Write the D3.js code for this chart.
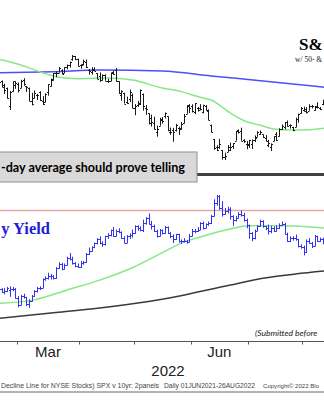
<!DOCTYPE html>
<html><head><meta charset="utf-8">
<script src="https://cdn.jsdelivr.net/npm/d3@7"></script>
<style>html,body{margin:0;padding:0;background:#fff;overflow:hidden}</style>
</head><body>
<svg id="c" width="324" height="400"></svg>
<script>
// ---- DATA ----
const dates = [
 "02-16","02-17","02-18","02-22","02-23","02-24","02-25","02-28",
 "03-01","03-02","03-03","03-04","03-07","03-08","03-09","03-10","03-11","03-14","03-15","03-16","03-17","03-18","03-21","03-22","03-23","03-24","03-25","03-28","03-29","03-30","03-31",
 "04-01","04-04","04-05","04-06","04-07","04-08","04-11","04-12","04-13","04-14","04-18","04-19","04-20","04-21","04-22","04-25","04-26","04-27","04-28","04-29",
 "05-02","05-03","05-04","05-05","05-06","05-09","05-10","05-11","05-12","05-13","05-16","05-17","05-18","05-19","05-20","05-23","05-24","05-25","05-26","05-27","05-31",
 "06-01","06-02","06-03","06-06","06-07","06-08","06-09","06-10","06-13","06-14","06-15","06-16","06-17","06-21","06-22","06-23","06-24","06-27","06-28","06-29","06-30",
 "07-01","07-05","07-06","07-07","07-08","07-11","07-12","07-13","07-14","07-15","07-18","07-19","07-20","07-21","07-22","07-25","07-26","07-27","07-28","07-29",
 "08-01","08-02","08-03","08-04","08-05","08-08","08-09","08-10","08-11"];

const spOpen = [4441,4456,4385,4332,4325,4155,4298,4354,
 4363,4322,4401,4342,4327,4202,4224,4253,4280,4202,4188,4289,4345,4398,4462,4470,4494,4469,4523,4541,4602,4624,4600,
 4540,4547,4572,4495,4474,4495,4462,4437,4397,4449,4385,4390,4473,4490,4385,4255,4278,4186,4222,4253,
 4130,4159,4181,4270,4129,4081,4035,3991,3903,3964,4014,4052,4052,3900,3927,3920,3943,3929,3985,4077,4151,
 4150,4096,4137,4135,4096,4148,4102,3974,3838,3764,3765,3733,3665,3715,3733,3774,3821,3920,3913,3826,3786,
 3782,3792,3831,3858,3889,3880,3851,3776,3763,3819,3883,3861,3935,3955,4002,3966,3953,3951,4027,4087,
 4112,4104,4107,4155,4115,4156,4134,4171,4227];
const spHigh = [4490,4456,4394,4363,4327,4295,4385,4388,
 4375,4401,4416,4342,4327,4277,4300,4268,4292,4247,4272,4358,4412,4465,4481,4522,4501,4520,4546,4575,4637,4627,4603,
 4549,4593,4593,4503,4521,4520,4464,4471,4453,4453,4410,4471,4488,4513,4385,4300,4278,4240,4308,4270,
 4169,4200,4308,4270,4160,4082,4069,4050,3964,4039,4046,4090,4052,3946,3943,3981,3955,3999,4076,4158,4169,
 4167,4178,4142,4169,4164,4160,4119,3974,3838,3778,3838,3733,3707,3780,3802,3798,3913,3928,3945,3836,3818,
 3829,3832,3871,3911,3918,3880,3874,3829,3796,3864,3903,3939,3975,3999,4013,3976,3953,4040,4079,4141,
 4144,4140,4168,4162,4152,4187,4142,4211,4257];
const spLow = [4401,4373,4327,4267,4222,4114,4287,4315,
 4280,4322,4345,4285,4199,4157,4224,4209,4200,4162,4187,4250,4335,4393,4425,4469,4455,4465,4501,4517,4582,4588,4530,
 4507,4538,4514,4450,4450,4487,4408,4381,4393,4392,4371,4388,4449,4384,4267,4201,4175,4171,4188,4131,
 4063,4144,4161,4107,4067,3976,3956,3929,3859,3963,3983,4033,3911,3876,3810,3909,3875,3926,3985,4077,4084,
 4090,4075,4098,4109,4081,4107,4017,3901,3734,3722,3743,3640,3637,3715,3723,3743,3821,3889,3820,3800,3739,
 3752,3742,3808,3858,3878,3847,3814,3759,3722,3817,3818,3861,3924,3928,3955,3936,3911,3951,3992,4079,
 4097,4079,4107,4128,4107,4128,4112,4159,4201];
const spClose = [4475,4380,4349,4304,4226,4288,4385,4374,
 4306,4387,4364,4329,4201,4171,4278,4260,4204,4173,4262,4358,4412,4463,4461,4512,4456,4520,4543,4575,4632,4602,4530,
 4546,4583,4525,4481,4500,4488,4413,4397,4447,4392,4391,4463,4459,4394,4272,4296,4175,4184,4288,4132,
 4155,4175,4300,4147,4123,3991,4001,3936,3930,4024,4008,4088,3923,3901,3901,3974,3941,3979,4058,4158,4132,
 4101,4177,4109,4121,4161,4116,4018,3901,3750,3735,3790,3667,3675,3765,3760,3796,3912,3901,3822,3819,3785,
 3825,3831,3845,3903,3899,3855,3819,3802,3790,3863,3831,3937,3960,3999,3962,3967,3921,4024,4073,4130,
 4119,4091,4155,4152,4145,4140,4122,4210,4207];

const ylOpen = [2.05,2.04,1.97,1.93,1.94,1.96,1.97,1.97,
 1.83,1.72,1.86,1.84,1.73,1.78,1.86,1.95,1.99,2.00,2.14,2.16,2.19,2.18,2.15,2.32,2.38,2.30,2.37,2.48,2.46,2.40,2.35,
 2.34,2.39,2.41,2.55,2.60,2.66,2.72,2.78,2.72,2.70,2.83,2.85,2.94,2.84,2.91,2.90,2.81,2.73,2.83,2.85,
 2.89,2.99,2.96,2.93,3.05,3.12,3.03,2.99,2.91,2.84,2.93,2.88,2.98,2.88,2.84,2.78,2.86,2.76,2.75,2.75,2.74,
 2.84,2.91,2.91,2.94,3.04,2.97,3.03,3.04,3.16,3.37,3.48,3.29,3.20,3.24,3.28,3.16,3.09,3.13,3.20,3.18,3.09,
 3.01,2.88,2.81,2.92,3.00,3.08,2.99,2.96,2.91,2.96,2.92,2.96,3.02,3.03,2.87,2.75,2.80,2.80,2.78,2.67,
 2.65,2.57,2.75,2.73,2.68,2.83,2.76,2.79,2.78];
const ylHigh = [2.07,2.05,1.99,1.99,2.01,2.02,2.01,1.99,
 1.86,1.88,1.90,1.85,1.81,1.88,1.96,2.01,2.02,2.15,2.18,2.24,2.22,2.20,2.33,2.41,2.40,2.39,2.50,2.56,2.50,2.41,2.39,
 2.43,2.43,2.56,2.65,2.67,2.73,2.80,2.83,2.75,2.84,2.88,2.94,2.98,2.94,2.96,2.91,2.83,2.85,2.88,2.94,
 3.01,3.01,2.99,3.10,3.14,3.20,3.08,3.02,2.94,2.95,2.94,3.00,2.99,2.90,2.86,2.87,2.87,2.78,2.80,2.77,2.87,
 2.95,2.95,2.98,3.06,3.07,3.04,3.07,3.18,3.43,3.50,3.50,3.40,3.29,3.31,3.30,3.17,3.16,3.22,3.25,3.21,3.12,
 3.02,2.90,2.94,3.01,3.10,3.09,3.00,3.02,3.00,2.99,3.01,3.04,3.07,3.05,2.89,2.83,2.83,2.86,2.79,2.70,
 2.68,2.78,2.80,2.74,2.85,2.84,2.81,2.81,2.90];
const ylLow = [2.02,1.96,1.91,1.89,1.93,1.85,1.94,1.82,
 1.68,1.71,1.82,1.70,1.67,1.77,1.85,1.92,1.96,1.99,2.11,2.13,2.13,2.13,2.14,2.30,2.28,2.29,2.36,2.44,2.37,2.33,2.32,
 2.32,2.37,2.40,2.53,2.58,2.64,2.70,2.70,2.66,2.68,2.79,2.83,2.82,2.83,2.88,2.79,2.72,2.72,2.79,2.81,
 2.87,2.92,2.91,2.90,3.02,3.02,2.94,2.90,2.81,2.83,2.86,2.87,2.87,2.80,2.72,2.77,2.73,2.71,2.73,2.71,2.73,
 2.83,2.88,2.90,2.93,2.94,2.96,3.00,3.03,3.15,3.33,3.26,3.15,3.18,3.20,3.10,3.00,3.07,3.12,3.15,3.07,2.96,
 2.79,2.75,2.78,2.91,2.99,2.97,2.93,2.86,2.88,2.90,2.91,2.95,3.00,2.86,2.74,2.74,2.76,2.76,2.65,2.63,
 2.52,2.56,2.71,2.64,2.67,2.74,2.74,2.70,2.76];
const ylClose = [2.04,1.97,1.93,1.94,1.99,1.97,1.97,1.83,
 1.72,1.86,1.84,1.73,1.78,1.86,1.95,1.99,2.00,2.14,2.16,2.19,2.18,2.15,2.32,2.38,2.30,2.37,2.48,2.46,2.40,2.35,2.34,
 2.39,2.41,2.55,2.60,2.66,2.72,2.78,2.72,2.70,2.83,2.85,2.94,2.84,2.91,2.90,2.81,2.73,2.83,2.85,2.89,
 2.99,2.96,2.93,3.05,3.12,3.03,2.99,2.91,2.84,2.93,2.88,2.98,2.88,2.84,2.78,2.86,2.76,2.75,2.75,2.74,2.84,
 2.91,2.91,2.94,3.04,2.97,3.03,3.04,3.16,3.37,3.48,3.29,3.20,3.24,3.28,3.16,3.09,3.13,3.20,3.18,3.09,3.01,
 2.88,2.81,2.92,3.00,3.08,2.99,2.96,2.91,2.96,2.92,2.96,3.02,3.03,2.87,2.75,2.80,2.80,2.78,2.67,2.65,
 2.57,2.75,2.73,2.68,2.83,2.76,2.79,2.78,2.89];

// moving averages: [date, value]
const spMA50 = [["02-17",4596],["03-02",4542],["03-14",4468],["03-22",4425],["03-31",4411],["04-18",4418],["04-29",4399],["05-16",4323],["05-25",4288],["06-06",4234],["06-10",4208],["06-22",4085],["06-30",4002],["07-08",3970],["07-15",3932],["07-25",3923],["08-01",3923],["08-11",3942]];
const spMA200 = [["02-17",4468],["03-18",4478],["04-12",4494],["05-16",4485],["06-10",4438],["07-11",4390],["08-11",4329]];
const ylMA50 = [["02-17",1.745],["03-09",1.80],["03-25",1.96],["04-12",2.12],["04-29",2.32],["05-18",2.61],["05-25",2.72],["06-06",2.82],["06-22",2.95],["07-01",3.00],["07-20",3.00],["08-11",2.965]];
const ylMA200 = [["02-17",1.50],["03-18",1.59],["04-12",1.67],["05-03",1.75],["05-16",1.81],["06-22",2.04],["07-11",2.15],["07-27",2.22],["08-11",2.27]];
const ylRef = 3.25;

const monthStarts = ["03-01","04-01","05-02","06-01","07-01","08-01"];
const monthLabels = [{label:"Mar", first:"03-01", last:"03-31"}, {label:"Jun", first:"06-01", last:"06-30"}];
const yearLabel = "2022";

// visible text fragments (the reference is a crop of a larger chart)
const topTitle = "S&";
const topSub = "w/ 50- &";
const boxText = "-day average should prove telling";
const botTitle = "y Yield";
const noteText = "(Submitted before";
const footer1 = "Decline Line for NYSE Stocks) SPX v 10yr: 2panels";
const footer2 = "Daily 01JUN2021-26AUG2022";
const footer3 = "Copyright\u00A9 2022 Blo";

// ---- LAYOUT ----
const svg = d3.select("#c");
const step = 2.72, x0 = 16.7 - 8*step;
const x = d3.scaleBand().domain(dates).range([x0, x0 + dates.length*step]).padding(0);
const cx = d => Math.round(x(d) + step/2) + 0.5;
const cxs = d => x(d) + step/2;
const yTop = d3.scaleLinear().domain([3637, 4637]).range([160, 55]);
const yBot = d3.scaleLinear().domain([1.67, 3.50]).range([307.9, 195]);

function bars(g, o, h, l, c, y, color){
  let p = "";
  dates.forEach((d,i)=>{
    const xc = cx(d);
    p += `M${xc},${y(h[i])}V${y(l[i])}`;
    p += `M${xc-1.5},${Math.round(y(o[i]))+0.5}H${xc}`;
    p += `M${xc},${Math.round(y(c[i]))+0.5}H${xc+1.5}`;
  });
  g.append("path").attr("d", p).attr("fill","none").attr("stroke", color).attr("stroke-width",1);
}
function maLine(g, data, y, color, w){
  const line = d3.line().x(d=>cxs(d[0])).y(d=>y(d[1])).curve(d3.curveMonotoneX);
  g.append("path").datum(data).attr("d", line).attr("fill","none").attr("stroke", color).attr("stroke-width", w);
}

// top panel
const gTop = svg.append("g");
maLine(gTop, spMA200, yTop, "#4d4dff", 1.5);
maLine(gTop, spMA50, yTop, "#86e886", 1.5);
bars(gTop, spOpen, spHigh, spLow, spClose, yTop, "#1a1a1a");
svg.append("text").attr("x",299).attr("y",50).attr("font-family","Liberation Serif").attr("font-weight","bold").attr("font-size",17).attr("fill","#000").text(topTitle);
svg.append("text").attr("x",295).attr("y",62).attr("font-family","Liberation Serif").attr("font-size",7.5).attr("fill","#222").text(topSub);

// panel separator
svg.append("line").attr("x1",0).attr("x2",324).attr("y1",174.5).attr("y2",174.5).attr("stroke","#404040").attr("stroke-width",3);

// text box
svg.append("rect").attr("x",-2).attr("y",152).attr("width",199).attr("height",30).attr("fill","#d9d9d9").attr("stroke","#8f8f8f").attr("stroke-width",1);
svg.append("text").attr("x",1).attr("y",172).attr("textLength",184).attr("lengthAdjust","spacingAndGlyphs").attr("font-family","Lato").attr("font-weight","bold").attr("font-size",12.5).attr("fill","#000").text(boxText);

// bottom panel
const gBot = svg.append("g");
gBot.append("line").attr("x1",0).attr("x2",324).attr("y1",Math.round(yBot(ylRef))+0.5).attr("y2",Math.round(yBot(ylRef))+0.5).attr("stroke","#e3aaa4").attr("stroke-width",1.5);
maLine(gBot, ylMA200, yBot, "#3a3a3a", 1.5);
maLine(gBot, ylMA50, yBot, "#86e886", 1.5);
bars(gBot, ylOpen, ylHigh, ylLow, ylClose, yBot, "#3232f0");
svg.append("text").attr("x",50).attr("y",234).attr("text-anchor","end").attr("font-family","Liberation Serif").attr("font-weight","bold").attr("font-size",16.5).attr("fill","#1e1ed8").text(botTitle);

svg.append("text").attr("x",255).attr("y",336).attr("font-family","Lato").attr("font-style","italic").attr("font-size",8.5).attr("fill","#222").text(noteText);

// x axis
svg.append("line").attr("x1",0).attr("x2",324).attr("y1",341.5).attr("y2",341.5).attr("stroke","#555").attr("stroke-width",1.2);
svg.selectAll(".tk").data(monthStarts).enter().append("line")
  .attr("x1",d=>Math.round(x(d))+0.5).attr("x2",d=>Math.round(x(d))+0.5).attr("y1",341).attr("y2",344.5).attr("stroke","#555").attr("stroke-width",1);
svg.selectAll(".ml").data(monthLabels).enter().append("text")
  .attr("x",d=>(x(d.first)+x(d.last)+step)/2).attr("y",357).attr("text-anchor","middle")
  .attr("font-family","Liberation Sans").attr("font-size",15).attr("fill","#222").text(d=>d.label);
svg.append("text").attr("x",168).attr("y",376).attr("text-anchor","middle").attr("font-family","Liberation Sans").attr("font-size",15).attr("fill","#222").text(yearLabel);

// footer
function ft(xp, txt, len, fs){ return svg.append("text").attr("x",xp).attr("y",388)
  .attr("font-family","Liberation Sans").attr("font-size",fs).attr("fill","#444")
  .attr("textLength",len).attr("lengthAdjust","spacingAndGlyphs").text(txt); }
ft(1,footer1,158,6.6);
ft(164,footer2,91,6.6);
ft(263,footer3,56,5.8);
svg.append("line").attr("x1",0).attr("x2",324).attr("y1",392).attr("y2",392).attr("stroke","#666").attr("stroke-width",1);
</script>
</body></html>
